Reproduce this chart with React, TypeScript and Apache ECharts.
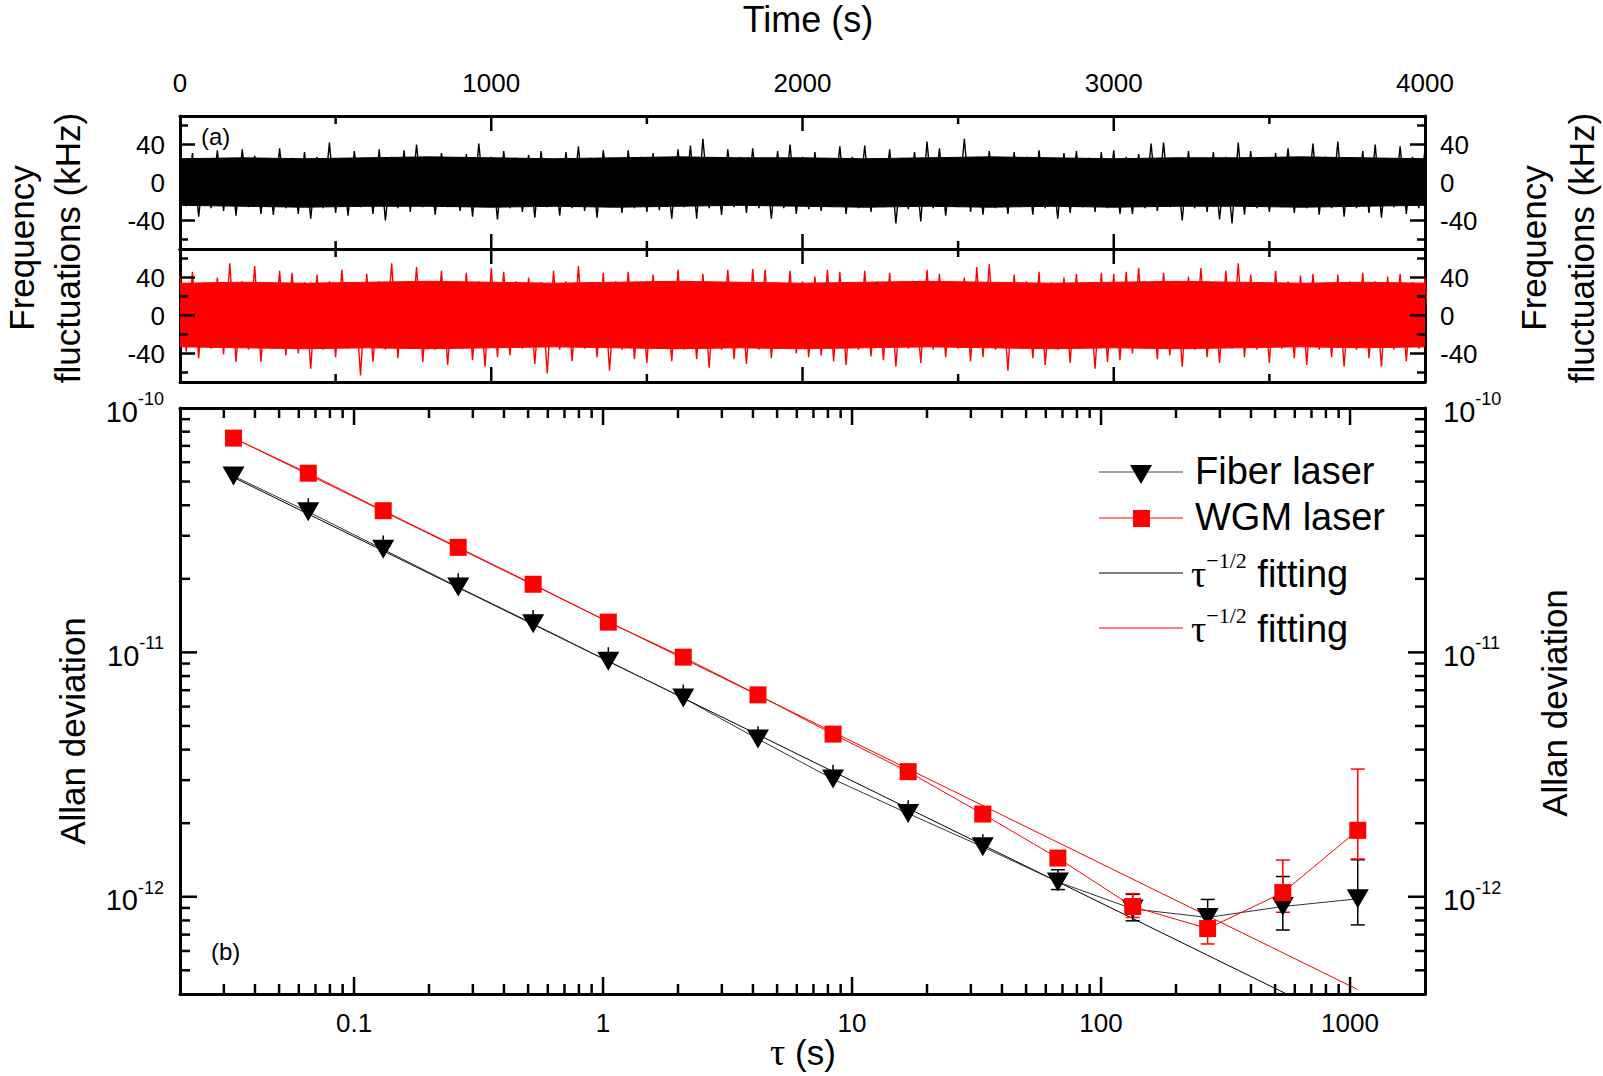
import React, { useEffect, useRef } from 'react';
import * as echarts from 'echarts';

const FONT = '"Liberation Sans", Arial, Helvetica, sans-serif';
const SERIF = '"Liberation Serif", "Times New Roman", serif';

// (a) frequency fluctuations in kHz: spike tips of each trace, one pair every 40 s
const SAMPLE_STEP_S = 40;
const fiberTraceHi = [
  27, 31, 25, 34, 26, 35, 28, 25, 36, 26, 32, 27, 42, 25, 33, 26, 35, 27, 34, 40, 26, 31, 25, 30, 41, 27,
  33, 26, 29, 33, 25, 32, 38, 26, 34, 25, 34, 27, 31, 25, 35, 39, 46, 26, 35, 27, 36, 25, 33, 40, 27,
  32, 25, 38, 27, 39, 25, 35, 26, 32, 43, 36, 25, 46, 27, 33, 25, 32, 27, 34, 25, 31, 33, 26, 32, 34,
  27, 30, 41, 42, 26, 33, 25, 32, 27, 42, 33, 25, 31, 36, 26, 41, 27, 43, 26, 33, 40, 25, 38, 27, 35,
];
const fiberTraceLo = [
  -25, -36, -27, -30, -35, -26, -33, -34, -27, -33, -38, -27, -32, -35, -26, -33, -40, -27, -31, -26, -34, -26, -30, -36, -26, -39,
  -27, -31, -37, -26, -35, -27, -30, -37, -26, -32, -27, -31, -29, -38, -26, -38, -27, -34, -26, -32, -27, -38, -27, -33, -28,
  -30, -26, -33, -27, -31, -26, -43, -28, -41, -27, -35, -26, -31, -34, -27, -33, -26, -34, -27, -38, -32, -26, -31, -27, -33,
  -33, -27, -30, -26, -40, -27, -31, -39, -43, -34, -27, -31, -26, -32, -27, -34, -27, -36, -27, -32, -37, -26, -33, -27, -30,
];
const wgmTraceHi = [
  42, 46, 35, 40, 55, 36, 52, 35, 47, 45, 35, 43, 36, 48, 34, 44, 36, 55, 35, 51, 36, 47, 34, 45, 36, 50,
  46, 36, 40, 35, 47, 36, 52, 35, 45, 36, 46, 35, 43, 34, 48, 36, 44, 35, 48, 35, 49, 48, 35, 47, 36,
  41, 48, 46, 35, 47, 36, 45, 36, 35, 48, 44, 36, 40, 51, 54, 35, 43, 36, 46, 35, 40, 44, 35, 45, 44,
  46, 50, 35, 45, 36, 41, 50, 35, 47, 55, 43, 35, 47, 36, 42, 44, 35, 43, 36, 45, 36, 41, 44, 35, 40,
];
const wgmTraceLo = [
  -38, -45, -35, -41, -49, -36, -49, -35, -42, -40, -56, -36, -44, -35, -63, -49, -36, -45, -35, -49, -36, -52, -35, -47, -54, -44,
  -42, -35, -51, -61, -36, -48, -35, -44, -58, -36, -46, -50, -35, -48, -36, -46, -55, -36, -46, -51, -36, -45, -35, -40, -44,
  -42, -48, -52, -36, -43, -47, -54, -35, -50, -36, -44, -35, -48, -44, -36, -58, -35, -45, -52, -36, -50, -35, -56, -49, -47,
  -40, -35, -46, -42, -54, -36, -44, -50, -35, -44, -36, -50, -35, -45, -52, -36, -44, -54, -36, -45, -54, -36, -48, -35, -42,
];
// edge of the dense (solid) part of each trace, one value every 200 s
const CORE_STEP_S = 200;
const fiberCoreHi = [25, 26, 25, 26, 27, 26, 25, 26, 27, 26, 26, 25, 26, 27, 26, 25, 26, 26, 27, 26, 25];
const fiberCoreLo = [-24, -25, -26, -25, -25, -26, -25, -26, -25, -24, -25, -26, -25, -26, -25, -26, -25, -25, -26, -25, -24];
const wgmCoreHi = [34, 35, 34, 35, 36, 35, 34, 35, 36, 35, 34, 35, 36, 35, 34, 35, 36, 35, 34, 35, 34];
const wgmCoreLo = [-33, -34, -35, -34, -35, -34, -33, -34, -35, -34, -35, -34, -33, -34, -35, -34, -35, -34, -33, -34, -33];

// (b) Allan deviation
const tau = [0.0328, 0.0655, 0.131, 0.262, 0.524, 1.05, 2.1, 4.19, 8.39, 16.8, 33.5, 67.1, 134, 268, 537, 1074];
const fiberAdev = [5.27e-11, 3.76e-11, 2.64e-11, 1.85e-11, 1.31e-11, 9.2e-12, 6.51e-12, 4.42e-12, 3.03e-12, 2.19e-12, 1.6e-12, 1.15e-12, 8.92e-13, 8.23e-13, 9.12e-13, 9.81e-13];
const fiberErrHi = [5.6e-11, 4.27e-11, 3.01e-11, 2.11e-11, 1.49e-11, 1.05e-11, 7.38e-12, 4.98e-12, 3.47e-12, 2.48e-12, 1.8e-12, 1.29e-12, 1.023e-12, 9.75e-13, 1.21e-12, 1.417e-12];
const fiberErrLo = [4.9e-11, 3.5e-11, 2.46e-11, 1.72e-11, 1.22e-11, 8.56e-12, 6.05e-12, 4.11e-12, 2.82e-12, 2.04e-12, 1.49e-12, 1.07e-12, 7.97e-13, 6.9e-13, 7.31e-13, 7.67e-13];
const wgmAdev = [7.53e-11, 5.41e-11, 3.8e-11, 2.69e-11, 1.9e-11, 1.33e-11, 9.56e-12, 6.7e-12, 4.63e-12, 3.25e-12, 2.18e-12, 1.44e-12, 9.12e-13, 7.41e-13, 1.04e-12, 1.87e-12];
const wgmErrHi = [null, null, null, null, null, null, null, null, null, null, null, null, 1.03e-12, 8.86e-13, 1.413e-12, 3.33e-12];
const wgmErrLo = [null, null, null, null, null, null, null, null, null, null, null, null, 8.23e-13, 6.41e-13, 8.64e-13, 1.427e-12];
const fiberFit = [[0.0328, 5.2e-11], [573, 3.94e-13]];
const wgmFit = [[0.0328, 7.55e-11], [1074, 4.17e-13]];
const CAP_FROM_TAU = 60;

// axes
const TIME_MAX = 4000;
const FREQ_MIN = -70;
const FREQ_MAX = 70;
const freqLabels = [-40, 0, 40];
const timeMajorTicks = [1000, 2000, 3000];
const timeMinorTicks = [500, 1500, 2500, 3500];
const freqMajorTicks = [-40, 0, 40];
const freqMinorTicks = [-60, -20, 20, 60];
const TAU_MIN = 0.02;
const TAU_MAX = 2000;
const ADEV_MIN = 4e-13;
const ADEV_MAX = 1e-10;
const tauMajorTicks = [0.1, 1, 10, 100, 1000];
const adevMajorTicks = [1e-12, 1e-11];

const logMinorTicks = (lo: number, hi: number) => {
  const out: number[] = [];
  for (let e = Math.floor(Math.log10(lo)); e <= Math.ceil(Math.log10(hi)); e++) {
    for (let m = 2; m <= 9; m++) {
      const v = m * Math.pow(10, e);
      if (v > lo * 1.0001 && v < hi * 0.9999) out.push(v);
    }
  }
  return out;
};

const isPow10 = (v: number) => Math.abs(Math.log10(v) - Math.round(Math.log10(v))) < 1e-6;

// tips alternate up / down, half a step apart, like the sampled trace
const zigzag = (hi: number[], lo: number[]) =>
  hi.flatMap((v, i) => [[i * SAMPLE_STEP_S, v], [i * SAMPLE_STEP_S + SAMPLE_STEP_S / 2, lo[i]]]);
const core = (vals: number[]) => vals.map((v, i) => [i * CORE_STEP_S, v]);

const renderTicks = (params: any, api: any) => {
  const cs = params.coordSys;
  const len = api.value(2);
  const p = api.coord([api.value(0), api.value(1)]);
  const style = { stroke: '#000', lineWidth: 2.5 };
  if (api.value(3) === 0) {
    const x = p[0];
    return {
      type: 'group',
      children: [
        { type: 'line', shape: { x1: x, y1: cs.y, x2: x, y2: cs.y + len }, style },
        { type: 'line', shape: { x1: x, y1: cs.y + cs.height, x2: x, y2: cs.y + cs.height - len }, style },
      ],
    };
  }
  const y = p[1];
  return {
    type: 'group',
    children: [
      { type: 'line', shape: { x1: cs.x, y1: y, x2: cs.x + len, y2: y }, style },
      { type: 'line', shape: { x1: cs.x + cs.width, y1: y, x2: cs.x + cs.width - len, y2: y }, style },
    ],
  };
};

const renderErr = (params: any, api: any) => {
  const t = api.value(0);
  const top = api.coord([t, api.value(2)]);
  const bot = api.coord([t, api.value(1)]);
  const color = api.visual('color');
  const style = { stroke: color, lineWidth: 1.5 };
  const children: any[] = [
    { type: 'line', shape: { x1: top[0], y1: top[1], x2: bot[0], y2: bot[1] }, style },
  ];
  if (t >= CAP_FROM_TAU) {
    children.push(
      { type: 'line', shape: { x1: top[0] - 7, y1: top[1], x2: top[0] + 7, y2: top[1] }, style },
      { type: 'line', shape: { x1: bot[0] - 7, y1: bot[1], x2: bot[0] + 7, y2: bot[1] }, style },
    );
  }
  return { type: 'group', children };
};

const App: React.FC = () => {
  const chartRef = useRef<HTMLDivElement>(null);

  useEffect(() => {
    if (!chartRef.current) return;
    const chart = echarts.init(chartRef.current, undefined, { renderer: 'svg' });

    const frame = { show: true, onZero: false, lineStyle: { color: '#000', width: 3 } };
    const label = { color: '#000', fontFamily: FONT, fontSize: 26 };
    const noTick = { show: false };
    const noSplit = { show: false };

    const timeAxis = (gridIndex: number, position: string, showLabel: boolean) => ({
      type: 'value', gridIndex, position, min: 0, max: TIME_MAX, interval: 1000,
      axisLine: frame, axisTick: noTick, splitLine: noSplit,
      axisLabel: { ...label, show: showLabel, margin: 20, formatter: (v: number) => String(v) },
    });
    const freqAxis = (gridIndex: number, position: string) => ({
      type: 'value', gridIndex, position, min: FREQ_MIN, max: FREQ_MAX, interval: 10,
      axisLine: frame, axisTick: noTick, splitLine: noSplit,
      axisLabel: {
        ...label, margin: 15,
        formatter: (v: number) => (freqLabels.includes(v) ? String(v) : ''),
      },
    });
    const tauAxis = (position: string, showLabel: boolean) => ({
      type: 'log', logBase: 10, gridIndex: 2, position, min: TAU_MIN, max: TAU_MAX,
      axisLine: frame, axisTick: noTick, splitLine: noSplit, minorTick: { show: false },
      axisLabel: {
        ...label, show: showLabel, margin: 16,
        formatter: (v: number) => (isPow10(v) ? String(Number(v.toPrecision(6))) : ''),
      },
    });
    const adevAxis = (position: string, margin: number) => ({
      type: 'log', logBase: 10, gridIndex: 2, position, min: ADEV_MIN, max: ADEV_MAX,
      axisLine: frame, axisTick: noTick, splitLine: noSplit, minorTick: { show: false },
      axisLabel: {
        color: '#000', margin,
        formatter: (v: number) => (isPow10(v) ? `{b|10}{s|${Math.round(Math.log10(v))}}` : ''),
        rich: {
          b: { fontFamily: FONT, fontSize: 29, color: '#000', verticalAlign: 'bottom', padding: [7, 0, 0, 0] },
          s: { fontFamily: FONT, fontSize: 18, color: '#000', verticalAlign: 'top' },
        },
      },
    });

    const tickData = (xMaj: number[], xMin: number[], yMaj: number[], yMin: number[], xRef: number, yRef: number, lMaj: number, lMin: number) => [
      ...xMaj.map((v) => [v, yRef, lMaj, 0]),
      ...xMin.map((v) => [v, yRef, lMin, 0]),
      ...yMaj.map((v) => [xRef, v, lMaj, 1]),
      ...yMin.map((v) => [xRef, v, lMin, 1]),
    ];

    const coreSeries = (vals: number[], color: string, axis: number, origin: number) => ({
      type: 'line', xAxisIndex: axis, yAxisIndex: axis, data: core(vals),
      symbol: 'none', silent: true, z: 2,
      lineStyle: { color, width: 1 },
      areaStyle: { color, opacity: 1, origin },
    });
    const spikeSeries = (hi: number[], lo: number[], color: string, axis: number) => ({
      type: 'line', xAxisIndex: axis, yAxisIndex: axis, data: zigzag(hi, lo),
      symbol: 'none', silent: true, z: 3,
      lineStyle: { color, width: 1.4 },
    });

    const legendRow = (y: number, lineColor: string) => ({
      type: 'line', shape: { x1: 1099, y1: y, x2: 1183, y2: y }, style: { stroke: lineColor, lineWidth: 1.2 },
    });
    const fitLabel = (y: number) => ({
      type: 'text', x: 1191, y,
      style: {
        text: '{t|τ}{s|−1/2}{f| fitting}',
        verticalAlign: 'middle',
        rich: {
          t: { fontFamily: SERIF, fontSize: 38, fill: '#000', verticalAlign: 'bottom', padding: [6, 0, 0, 0] },
          s: { fontFamily: SERIF, fontSize: 22, fill: '#000', verticalAlign: 'top' },
          f: { fontFamily: FONT, fontSize: 38, fill: '#000', verticalAlign: 'bottom', padding: [6, 0, 0, 0] },
        },
      },
    });
    const titleStyle = { fontFamily: FONT, fontSize: 35, fill: '#000', align: 'center', verticalAlign: 'middle' };
    const vTitle = (x: number, y: number, text: string) => ({
      type: 'text', x, y, rotation: Math.PI / 2, style: { ...titleStyle, text },
    });

    chart.setOption({
      animation: false,
      backgroundColor: '#fff',
      textStyle: { fontFamily: FONT },
      grid: [
        { left: 180, top: 116, width: 1245, height: 133, containLabel: false, outerBoundsMode: 'none' },
        { left: 180, top: 249, width: 1245, height: 133, containLabel: false, outerBoundsMode: 'none' },
        { left: 180, top: 408, width: 1245, height: 586, containLabel: false, outerBoundsMode: 'none' },
      ],
      xAxis: [
        timeAxis(0, 'top', true),
        timeAxis(0, 'bottom', false),
        timeAxis(1, 'top', false),
        timeAxis(1, 'bottom', false),
        tauAxis('bottom', true),
        tauAxis('top', false),
      ],
      yAxis: [
        freqAxis(0, 'left'),
        freqAxis(0, 'right'),
        freqAxis(1, 'left'),
        freqAxis(1, 'right'),
        adevAxis('left', 16),
        adevAxis('right', 18),
      ],
      series: [
        coreSeries(fiberCoreHi, '#000', 0, -2),
        coreSeries(fiberCoreLo, '#000', 0, 2),
        spikeSeries(fiberTraceHi, fiberTraceLo, '#000', 0),
        coreSeries(wgmCoreHi, '#ff0000', 2, -2),
        coreSeries(wgmCoreLo, '#ff0000', 2, 2),
        spikeSeries(wgmTraceHi, wgmTraceLo, '#ff0000', 2),
        {
          type: 'custom', xAxisIndex: 0, yAxisIndex: 0, silent: true, z: 10, renderItem: renderTicks,
          data: tickData(timeMajorTicks, timeMinorTicks, freqMajorTicks, freqMinorTicks, 0, 0, 15, 8),
        },
        {
          type: 'custom', xAxisIndex: 2, yAxisIndex: 2, silent: true, z: 10, renderItem: renderTicks,
          data: tickData(timeMajorTicks, timeMinorTicks, freqMajorTicks, freqMinorTicks, 0, 0, 15, 8),
        },
        {
          type: 'custom', xAxisIndex: 4, yAxisIndex: 4, silent: true, z: 10, renderItem: renderTicks,
          data: tickData(tauMajorTicks, logMinorTicks(TAU_MIN, TAU_MAX), adevMajorTicks, logMinorTicks(ADEV_MIN, ADEV_MAX), 1, 1e-11, 17, 10),
        },
        {
          type: 'line', name: 'fiber fit', xAxisIndex: 4, yAxisIndex: 4, data: fiberFit,
          symbol: 'none', silent: true, lineStyle: { color: '#000', width: 1 }, z: 3,
        },
        {
          type: 'line', name: 'WGM fit', xAxisIndex: 4, yAxisIndex: 4, data: wgmFit,
          symbol: 'none', silent: true, lineStyle: { color: '#ff0000', width: 1 }, z: 3,
        },
        {
          type: 'custom', name: 'fiber err', xAxisIndex: 4, yAxisIndex: 4, silent: true, z: 4,
          itemStyle: { color: '#000' }, renderItem: renderErr,
          data: tau.map((t, i) => [t, fiberErrLo[i], fiberErrHi[i]]),
        },
        {
          type: 'custom', name: 'WGM err', xAxisIndex: 4, yAxisIndex: 4, silent: true, z: 4,
          itemStyle: { color: '#ff0000' }, renderItem: renderErr,
          data: tau.map((t, i) => [t, wgmErrLo[i], wgmErrHi[i]]).filter((d) => d[1] != null),
        },
        {
          type: 'line', name: 'Fiber laser', xAxisIndex: 4, yAxisIndex: 4,
          data: tau.map((t, i) => [t, fiberAdev[i]]),
          symbol: 'triangle', symbolRotate: 180, symbolSize: [22, 19],
          itemStyle: { color: '#000' }, lineStyle: { color: '#333', width: 1 }, z: 5,
        },
        {
          type: 'line', name: 'WGM laser', xAxisIndex: 4, yAxisIndex: 4,
          data: tau.map((t, i) => [t, wgmAdev[i]]),
          symbol: 'rect', symbolSize: 17,
          itemStyle: { color: '#ff0000' }, lineStyle: { color: '#ff0000', width: 1 }, z: 6,
        },
      ],
      graphic: [
        { type: 'text', x: 808, y: 19, style: { ...titleStyle, fontSize: 36, text: 'Time (s)' } },
        vTitle(21, 248, 'Frequency'),
        vTitle(67, 248, 'fluctuations (kHz)'),
        vTitle(1533, 248, 'Frequency'),
        vTitle(1581, 248, 'fluctuations (kHz)'),
        vTitle(72, 731, 'Allan deviation'),
        vTitle(1554, 703, 'Allan deviation'),
        {
          type: 'text', x: 803, y: 1052,
          style: {
            text: '{t|τ}{f| (s)}', align: 'center', verticalAlign: 'middle',
            rich: {
              t: { fontFamily: SERIF, fontSize: 38, fill: '#000' },
              f: { fontFamily: FONT, fontSize: 35, fill: '#000' },
            },
          },
        },
        { type: 'text', x: 201, y: 136, style: { fontFamily: FONT, fontSize: 24, fill: '#000', text: '(a)', verticalAlign: 'middle' } },
        { type: 'text', x: 211, y: 951, style: { fontFamily: FONT, fontSize: 24, fill: '#000', text: '(b)', verticalAlign: 'middle' } },
        // legend
        legendRow(472, '#444'),
        { type: 'polygon', shape: { points: [[1130, 465], [1152, 465], [1141, 484]] }, style: { fill: '#000' } },
        { type: 'text', x: 1195, y: 471, style: { fontFamily: FONT, fontSize: 38, fill: '#000', text: 'Fiber laser', verticalAlign: 'middle' } },
        legendRow(518, '#ff0000'),
        { type: 'rect', shape: { x: 1133, y: 510, width: 17, height: 17 }, style: { fill: '#ff0000' } },
        { type: 'text', x: 1195, y: 517, style: { fontFamily: FONT, fontSize: 38, fill: '#000', text: 'WGM laser', verticalAlign: 'middle' } },
        legendRow(573, '#000'),
        fitLabel(571),
        legendRow(628, '#ff0000'),
        fitLabel(626),
      ],
    });

    return () => chart.dispose();
  }, []);

  return (
    <div
      ref={chartRef}
      style={{ position: 'fixed', left: 0, top: 0, width: 1603, height: 1076, background: '#fff' }}
    />
  );
};

export default App;
